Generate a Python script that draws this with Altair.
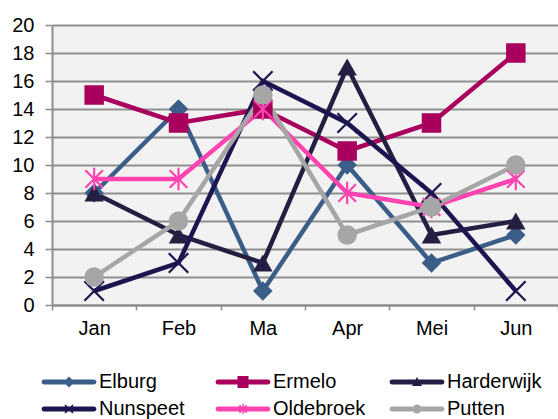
import altair as alt
import pandas as pd

months = ["Jan", "Feb", "Ma", "Apr", "Mei", "Jun"]
series = ["Elburg", "Ermelo", "Harderwijk", "Nunspeet", "Oldebroek", "Putten"]
elburg = [8, 14, 1, 10, 3, 5]
ermelo = [15, 13, 14, 11, 13, 18]
harderwijk = [8, 5, 3, 17, 5, 6]
nunspeet = [1, 3, 16, 13, 8, 1]
oldebroek = [9, 9, 14, 8, 7, 9]
putten = [2, 6, 15, 5, 7, 10]
y_ticks = list(range(0, 21, 2))

colors = ["#3b5e88", "#a8005c", "#241f42", "#1b1650", "#ff44b2", "#a6a6a6"]


def f(v):
    return f"{v:.3f}".rstrip("0").rstrip(".")


def poly(pts):
    return "M" + "L".join(f"{f(x)},{f(y)}" for x, y in pts) + "Z"


def x_arms(s, a):
    arm1 = [(-s + a, -s - a), (s + a, s - a), (s - a, s + a), (-s - a, -s + a)]
    arm2 = [(-s - a, s - a), (s - a, -s - a), (s + a, -s + a), (-s + a, s + a)]
    return poly(arm1) + poly(arm2)


def v_arm(h, t):
    return poly([(-t, -h), (t, -h), (t, h), (-t, h)])


# plot markers (unit box, filled)
X_PATH = x_arms(1, 0.08)
STAR_PATH = x_arms(0.9, 0.08) + v_arm(1.15, 0.11)
plot_shapes = ["diamond", "square", "triangle-up", X_PATH, STAR_PATH, "circle"]

# legend symbols: line + marker, in pixels (symbolSize 4 -> scale 1)
LINE = "M-25,-2.4L25,-2.4A2.4,2.4 0 0 1 25,2.4L-25,2.4A2.4,2.4 0 0 1 -25,-2.4Z"
legend_markers = [
    "M0,-5.5L5.5,0L0,5.5L-5.5,0Z",
    "M-5.5,-6L5.5,-6L5.5,6L-5.5,6Z",
    "M0,-5L5,4L-5,4Z",
    x_arms(4, 0.55),
    x_arms(3.6, 0.55) + v_arm(5, 0.75),
    "M-4.5,0A4.5,4.5 0 1 1 4.5,0A4.5,4.5 0 1 1 -4.5,0Z",
]
legend_paths = [LINE + m for m in legend_markers]

rows = []
for s, vals in zip(series, [elburg, ermelo, harderwijk, nunspeet, oldebroek, putten]):
    for m, v in zip(months, vals):
        rows.append({"month": m, "series": s, "value": v})
df = pd.DataFrame(rows)

FONT = "Liberation Sans"
FS = 20
GRAY = "#8c8c8c"

leg = alt.Legend(
    title=None,
    orient="none",
    direction="horizontal",
    legendX=-11,
    legendY=347,
    columns=3,
    gridAlign="all",
    columnPadding=21,
    rowPadding=7,
    padding=0,
    symbolSize=4,
    symbolOffset=18,
    symbolStrokeWidth=0,
    symbolOpacity=1,
    labelOffset=20,
    labelFont=FONT,
    labelFontSize=FS,
    labelColor="#000000",
    labelLimit=0,
)

x_enc = alt.X(
    "month:N",
    sort=months,
    bandPosition=0.5,
    scale=alt.Scale(type="band", paddingInner=0, paddingOuter=0),
    axis=alt.Axis(
        title=None,
        labelAngle=0,
        tickBand="extent",
        grid=False,
        domainColor=GRAY,
        domainWidth=2,
        tickColor=GRAY,
        tickWidth=1.5,
        tickSize=5,
        labelPadding=8,
        labelFont=FONT,
        labelFontSize=FS,
        labelColor="#000000",
    ),
)
y_enc = alt.Y(
    "value:Q",
    scale=alt.Scale(domain=[0, 20], nice=False),
    axis=alt.Axis(
        title=None,
        values=y_ticks,
        grid=True,
        gridColor="#8f8f8f",
        gridWidth=2,
        domainColor=GRAY,
        domainWidth=2,
        tickColor=GRAY,
        tickWidth=1.5,
        tickSize=7,
        labelPadding=11,
        labelFont=FONT,
        labelFontSize=FS,
        labelColor="#000000",
    ),
)

# data-driven domain (alphabetical = series order) so it does not merge with the legend
color_scale = alt.Scale(range=colors)

base = alt.Chart(df).encode(x=x_enc, y=y_enc)

lines = base.mark_line(strokeWidth=4.5).encode(
    color=alt.Color("series:N", scale=color_scale, legend=None),
)

point_layers = []
for s, shp in zip(series, plot_shapes):
    point_layers.append(
        base.transform_filter(alt.datum.series == s)
        .mark_point(filled=True, size=380, strokeWidth=0, opacity=1, shape=shp)
        .encode(color=alt.Color("series:N", scale=color_scale, legend=None))
    )

legend_layer = (
    base.transform_filter("false")
    .mark_point(filled=True, opacity=1)
    .encode(
        shape=alt.Shape("series:N", scale=alt.Scale(domain=series, range=legend_paths), legend=leg),
        fill=alt.Fill("series:N", scale=alt.Scale(domain=series, range=colors), legend=leg),
    )
)

chart = (
    alt.layer(lines, *point_layers, legend_layer)
    .properties(
        width=506,
        height=280,
        padding={"left": 52, "top": 25, "right": 0, "bottom": 114},
        autosize=alt.AutoSizeParams(type="none"),
        background="#ffffff",
    )
    .configure_view(fill="#f2f2f2", stroke=None)
)

chart.save("out.html", embed_options={"renderer": "svg", "actions": False})
